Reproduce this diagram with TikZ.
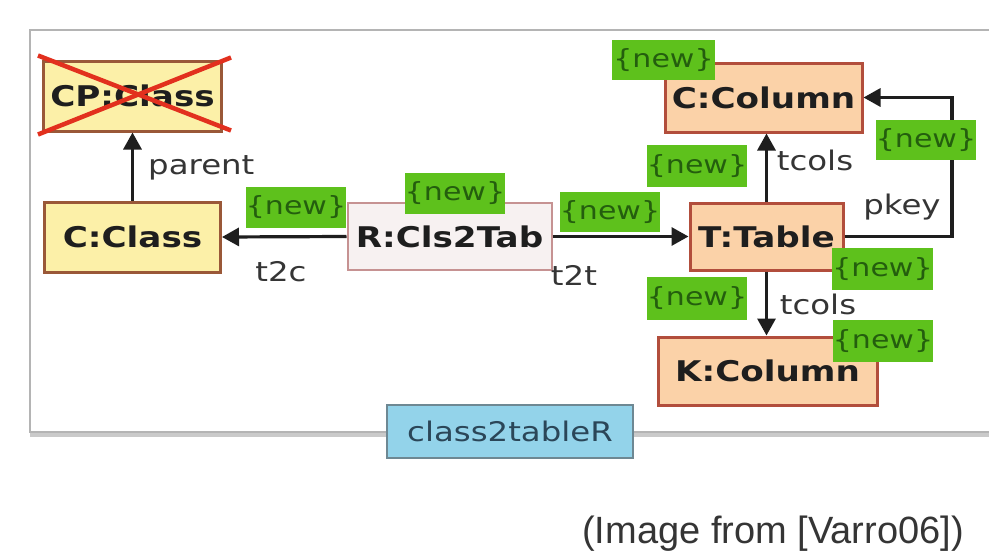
\documentclass[tikz,border=0pt]{standalone}
\usepackage{fontspec}
\usetikzlibrary{arrows.meta,calc}
\newfontfamily\diafont[FakeStretch=1.2]{DejaVu Sans}
\newfontfamily\capfont{Liberation Sans}
\definecolor{frameGray}{HTML}{B4B4B4}
\definecolor{clsFill}{HTML}{FCF0A8}
\definecolor{clsLine}{HTML}{9A5838}
\definecolor{tabFill}{HTML}{FBD2A8}
\definecolor{tabLine}{HTML}{B24E3C}
\definecolor{relFill}{HTML}{F7F1F1}
\definecolor{relLine}{HTML}{C69292}
\definecolor{tagFill}{HTML}{5EC11C}
\definecolor{tagText}{HTML}{245E0E}
\definecolor{ruleFill}{HTML}{93D3EA}
\definecolor{ruleLine}{HTML}{6E8893}
\definecolor{ruleText}{HTML}{2B4658}
\definecolor{crossRed}{HTML}{E2301E}
\definecolor{ink}{HTML}{1E1E1E}
\tikzset{
  obj/.style={draw, line width=3pt, inner sep=0pt, text=ink,
    font=\diafont\bfseries\fontsize{28.5}{30}\selectfont},
  clsbox/.style={obj, draw=clsLine, fill=clsFill},
  tabbox/.style={obj, draw=tabLine, fill=tabFill},
  relbox/.style={obj, draw=relLine, fill=relFill, line width=2pt},
  newtag/.style={fill=tagFill, inner sep=0pt, text=tagText,
    font=\diafont\fontsize{25}{27}\selectfont},
  edgelabel/.style={inner sep=0pt, text=ink!90,
    font=\diafont\fontsize{27}{29}\selectfont},
  edge/.style={draw=ink, line width=3.2pt,
    -{Triangle[length=17pt,width=18pt]}},
}
\begin{document}
\begin{tikzpicture}[x=1pt,y=-1pt]
  \useasboundingbox (0,0) rectangle (989,554);
  % rule frame
  \draw[frameGray!70, line width=5pt] (30,434) -- (995,434);
  \draw[frameGray, line width=1.5pt, fill=white] (30,30) rectangle (995,432);

  % objects
  \node[clsbox, minimum width=178pt, minimum height=70pt] (cp) at (132.5,96) {CP:Class};
  \node[clsbox, minimum width=176pt, minimum height=70pt] (cc) at (132.5,237) {C:Class};
  \node[relbox, minimum width=204pt, minimum height=67pt] (r) at (449.5,236.5) {R:Cls2Tab};
  \node[tabbox, minimum width=153pt, minimum height=67pt] (t) at (766.5,236.5) {T:Table};
  \node[tabbox, minimum width=197pt, minimum height=69pt] (col) at (763.5,97.5) {C:Column};
  \node[tabbox, minimum width=219pt, minimum height=68pt] (key) at (767.5,371) {K:Column};

  % deleted object
  \draw[crossRed, line width=4.5pt] ($(cp.north west)+(-4,-4)$) -- ($(cp.south east)+(8,-2)$);
  \draw[crossRed, line width=4.5pt] ($(cp.south west)+(-4,2)$) -- ($(cp.north east)+(8,-2)$);

  % links
  \draw[edge] (cc.north) -- (cp.south);
  \draw[edge] (r.west) -- (cc.east);
  \draw[edge] (r.east) -- (t.west);
  \draw[edge] (t.north) -- (t.north |- col.south);
  \draw[edge] (t.south) -- (t.south |- key.north);
  \coordinate (pk) at (952,236.5);
  \draw[edge] (t.east) -- (pk) |- (col.east);

  % link labels
  \node[edgelabel, anchor=west] (lparent) at (148,168) {parent};
  \node[edgelabel] (lt2c) at (281,272) {t2c};
  \node[edgelabel] (lt2t) at (574,275) {t2t};
  \node[edgelabel] (ltcolsa) at (815,160) {tcols};
  \node[edgelabel] (ltcolsb) at (818,304) {tcols};
  \node[edgelabel] (lpkey) at (902,207) {pkey};

  % {new} annotations
  \node[newtag, minimum width=103pt, minimum height=40pt] (n1) at (663.5,60) {\{new\}};
  \node[newtag, minimum width=98pt, minimum height=41pt] (n2) at (296,207.5) {\{new\}};
  \node[newtag, minimum width=100pt, minimum height=41pt] (n3) at (455,193.5) {\{new\}};
  \node[newtag, minimum width=96pt, minimum height=40pt] (n4) at (610,212) {\{new\}};
  \node[newtag, minimum width=100pt, minimum height=42pt] (n5) at (697,166) {\{new\}};
  \node[newtag, minimum width=98pt, minimum height=40pt] (n6) at (926,140) {\{new\}};
  \node[newtag, minimum width=99pt, minimum height=42pt] (n7) at (882.5,269) {\{new\}};
  \node[newtag, minimum width=100pt, minimum height=43pt] (n8) at (697,298.5) {\{new\}};
  \node[newtag, minimum width=100pt, minimum height=42pt] (n9) at (883,341) {\{new\}};

  % rule name
  \node[draw=ruleLine, fill=ruleFill, line width=2pt, inner sep=0pt,
        minimum width=246pt, minimum height=53pt, text=ruleText,
        font=\diafont\fontsize{27}{29}\selectfont] (rule) at (510,431.5) {class2tableR};

  % source note
  \node[font=\capfont\fontsize{38}{40}\selectfont, text=ink!90] (src) at (773,534) {(Image from [Varro06])};
\end{tikzpicture}
\end{document}
